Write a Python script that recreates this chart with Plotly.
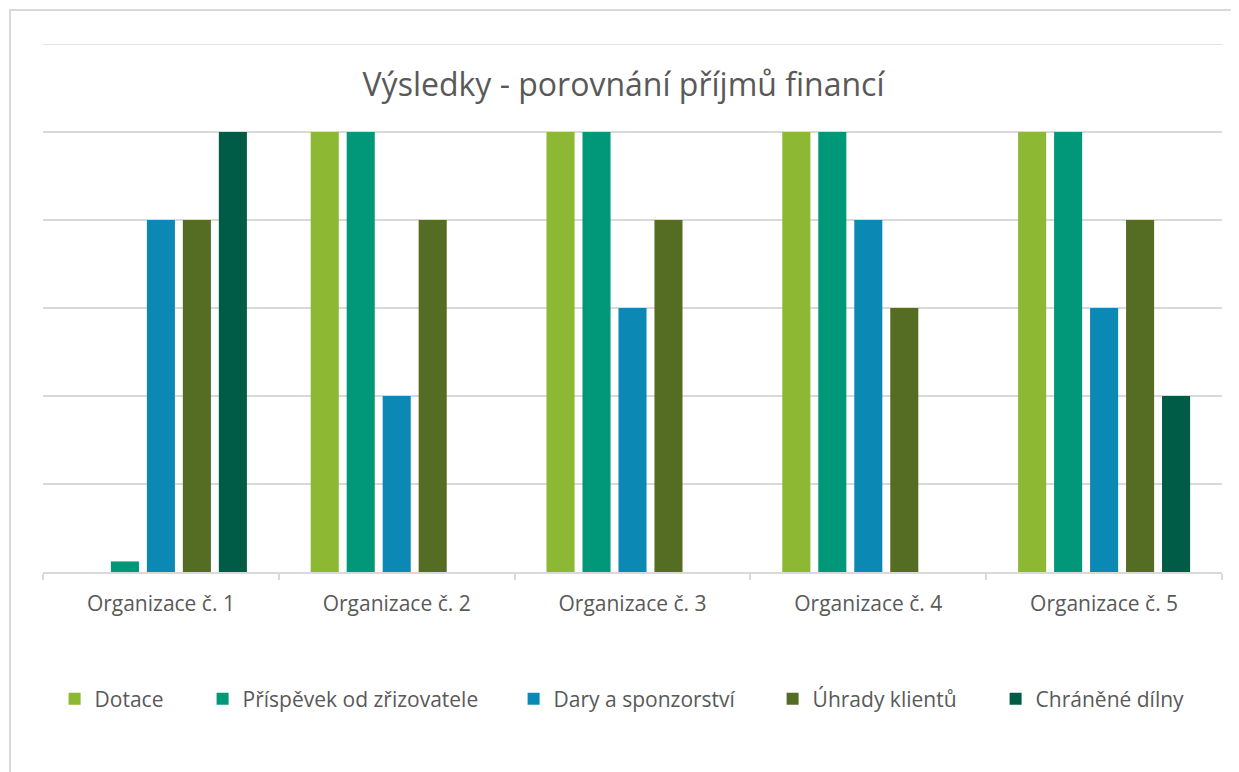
import plotly.graph_objects as go

categories = ["Organizace č. 1", "Organizace č. 2", "Organizace č. 3", "Organizace č. 4", "Organizace č. 5"]
series_names = ["Dotace", "Příspěvek od zřizovatele", "Dary a sponzorství", "Úhrady klientů", "Chráněné dílny"]
dotace = [0, 5, 5, 5, 5]
prispevek = [0.12, 5, 5, 5, 5]
dary = [4, 2, 3, 4, 3]
uhrady = [4, 4, 4, 3, 4]
chranene = [5, 0, 0, 0, 2]
series_values = [dotace, prispevek, dary, uhrady, chranene]
colors = ["#8CB833", "#01987A", "#0B88B3", "#546D22", "#015C47"]

FONT = "Open Sans"
TXT = "#595959"
GRID = "#D9D9D9"

# page body has an 8px margin: figure is drawn at (8, 8)
W, H = 1231, 764
L, R, T, B = 35, 17, 36, 200
PW = W - L - R

# legend entry text start positions (page px)
legend_text_x = [92, 240, 551, 810, 1033]
legend_ids = ["legend", "legend2", "legend3", "legend4", "legend5"]

fig = go.Figure()
for name, vals, col, lid in zip(series_names, series_values, colors, legend_ids):
    fig.add_trace(go.Bar(name=name, x=categories, y=vals, legend=lid,
                         marker=dict(color=col, line=dict(width=0))))

layout_legends = {}
for lid, tx in zip(legend_ids, legend_text_x):
    left_fig = tx - 40.4 + 3 - 8
    layout_legends[lid] = dict(orientation="h", x=(left_fig - L) / PW, xanchor="left",
                               y=-0.2405, yanchor="middle", bgcolor="rgba(0,0,0,0)",
                               font=dict(family=FONT, size=21, color=TXT), itemwidth=30)

fig.update_layout(
    width=W, height=H,
    margin=dict(l=L, r=R, t=T, b=B),
    paper_bgcolor="white", plot_bgcolor="white",
    barmode="group", bargap=0.237, bargroupgap=0.22,
    title=dict(text="Výsledky - porovnání příjmů financí", x=0.5, xanchor="center",
               y=1 - 77 / H, yanchor="middle", font=dict(family=FONT, size=32, color=TXT)),
    font=dict(family=FONT, size=21, color=TXT),
    showlegend=True,
    **layout_legends,
)
fig.update_xaxes(showline=True, linecolor=GRID, linewidth=1.5, ticks="outside", tickson="boundaries",
                 ticklen=6, tickcolor=GRID, tickwidth=1.5, showgrid=False, ticklabelstandoff=12,
                 tickfont=dict(family=FONT, size=21, color=TXT))
fig.update_yaxes(range=[0, 6], dtick=1, showgrid=True, gridcolor=GRID, gridwidth=1.5,
                 showticklabels=False, zeroline=False, showline=False)
# top gridline (value 6) sits on the plot edge
fig.add_shape(type="line", xref="paper", yref="y", x0=0, x1=1, y0=6, y1=6,
              line=dict(color=GRID, width=1.5), layer="below")
# chart-area border
fig.add_shape(type="rect", xref="paper", yref="paper", x0=-0.028, x1=1.2, y0=-0.6, y1=1 + 34 / 528,
              line=dict(color=GRID, width=2), layer="below")

fig.write_html("out.html")
